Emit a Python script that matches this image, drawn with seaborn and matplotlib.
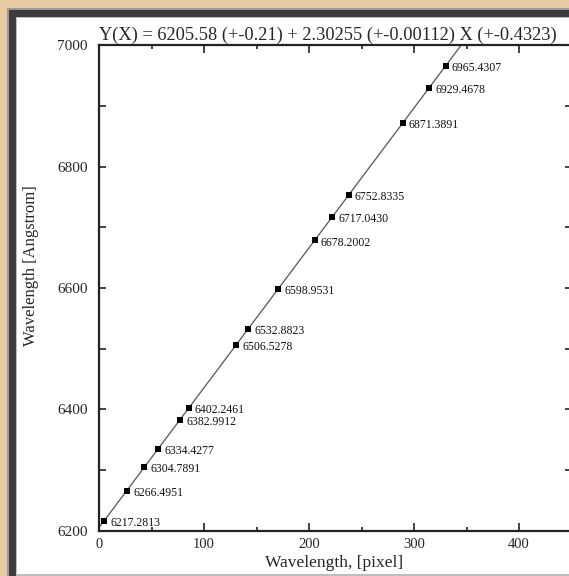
import matplotlib
matplotlib.use("Agg")
import matplotlib.pyplot as plt
from matplotlib.patches import Rectangle
from matplotlib.ticker import MultipleLocator
import seaborn as sns
import pandas as pd

# ---- data ----
pixel = [5.1, 26.5, 43.1, 56.0, 77.0, 85.4, 130.7, 142.2, 170.8, 205.3,
         222.1, 237.7, 289.2, 314.4, 330.0]
wavelength = [6217.2813, 6266.4951, 6304.7891, 6334.4277, 6382.9912, 6402.2461,
              6506.5278, 6532.8823, 6598.9531, 6678.2002, 6717.0430, 6752.8335,
              6871.3891, 6929.4678, 6965.4307]
fit_intercept = 6205.58
fit_slope = 2.30255
title_text = "Y(X) = 6205.58 (+-0.21) + 2.30255 (+-0.00112) X (+-0.4323)"
x_label = "Wavelength, [pixel]"
y_label = "Wavelength [Angstrom]"

df = pd.DataFrame({"pixel": pixel, "wavelength": wavelength})

sns.set_style("ticks")
plt.rcParams["font.family"] = ["Liberation Serif", "DejaVu Serif"]

W, H = 569, 576
fig = plt.figure(figsize=(W / 100, H / 100), dpi=100)
fig.patch.set_facecolor("#e6cb9e")


def px_rect(x0, y0, x1, y1, **kw):
    r = Rectangle((x0 / W, 1 - y1 / H), (x1 - x0) / W, (y1 - y0) / H,
                  transform=fig.transFigure, **kw)
    fig.add_artist(r)


# panel frame
px_rect(7, 8, 580, 576, facecolor="#9a9a9a", edgecolor="none", zorder=-4)
px_rect(9, 10, 580, 576, facecolor="#3c3c3c", edgecolor="none", zorder=-3)
px_rect(16, 17, 580, 576, facecolor="#bdbdbd", edgecolor="none", zorder=-2)
px_rect(17, 18, 580, 574, facecolor="white", edgecolor="none", zorder=-1)

left, right, top, bottom = 99, 571.5, 45, 531
ax = fig.add_axes([left / W, 1 - bottom / H, (right - left) / W, (bottom - top) / H])
ax.set_facecolor("white")

ax.axline((0, fit_intercept), slope=fit_slope, color="#555555", lw=0.9, zorder=1)
sns.scatterplot(data=df, x="pixel", y="wavelength", marker="s", color="black",
                s=24, linewidth=0, ax=ax, zorder=3, legend=False)

for xv, yv in zip(pixel, wavelength):
    ax.annotate(f"{yv:.4f}", (xv, yv), xytext=(4.5, -1.5), textcoords="offset points",
                fontsize=8.5, va="center", ha="left", color="#111111")

ax.set_xlim(0, 450)
ax.set_ylim(6200, 7000)
ax.xaxis.set_major_locator(MultipleLocator(100))
ax.xaxis.set_minor_locator(MultipleLocator(50))
ax.yaxis.set_major_locator(MultipleLocator(200))
ax.yaxis.set_minor_locator(MultipleLocator(100))

ax.tick_params(which="both", direction="in", top=True, right=True, width=1.2,
               color="#222222")
ax.tick_params(axis="x", which="major", length=6, labelsize=10.5, pad=5)
ax.tick_params(axis="x", which="minor", length=3)
ax.tick_params(axis="y", which="major", length=5, labelsize=11, pad=8)
ax.tick_params(axis="y", which="minor", length=5)

for sp in ax.spines.values():
    sp.set_linewidth(1.6)
    sp.set_color("#222222")

ax.set_xlabel(x_label, fontsize=12.5)
ax.set_ylabel(y_label, fontsize=12)
ax.xaxis.set_label_coords(0.497, -0.05)
ax.yaxis.set_label_coords(-0.128, 0.547)
ax.set_title(title_text, loc="left", fontsize=13.2, pad=4)

fig.savefig("out.png", dpi=100, facecolor=fig.get_facecolor())
